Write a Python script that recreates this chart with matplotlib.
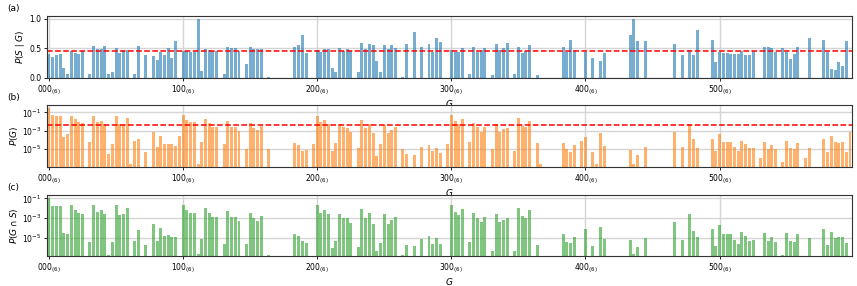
import numpy as np
import matplotlib
matplotlib.use('Agg')
import matplotlib.pyplot as plt

_ = None  # no bar drawn

# P(S | G) for G = 000_(6) ... 555_(6)
p_s_given_g = [
    0.41, 0.36, 0.39, 0.41, 0.17, 0.06, 0.46, 0.42, 0.41, 0.45, 0, 0.07,
    0.54, 0.49, 0.49, 0.54, 0.07, 0.09, 0.51, 0.42, 0.47, 0.48, 0, 0.06,
    0.54, 0, 0.38, 0, 0.37, 0.31, 0.44, 0.39, 0.51, 0.33, 0.63, 0,
    0.46, 0.45, 0.44, 0.44, 1.0, 0.12, 0.49, 0.47, 0.46, 0.46, 0, 0.06,
    0.52, 0.50, 0.50, 0.46, 0, 0.24, 0.52, 0.49, 0.49, 0.49, 0, 0.02,
    0, 0, 0, 0, 0, 0, 0.52, 0.56, 0.73, 0.42, 0, 0,
    0.47, 0.43, 0.49, 0.49, 0.17, 0.10, 0.50, 0.46, 0.49, 0.46, 0, 0.10,
    0.59, 0.49, 0.58, 0.55, 0.28, 0.10, 0.56, 0.49, 0.55, 0.51, 0, 0.02,
    0.58, 0, 0.77, 0, 0.53, 0, 0.58, 0.43, 0.67, 0.61, 0, 0,
    0.47, 0.43, 0.43, 0.50, 0, 0.07, 0.52, 0.44, 0.47, 0.50, 0, 0.05,
    0.58, 0.47, 0.50, 0.59, 0, 0.07, 0.52, 0.42, 0.45, 0.55, 0, 0.04,
    0, 0, 0, 0, 0, 0, 0.52, 0.43, 0.64, 0.47, 0, 0,
    0.44, 0, 0.33, 0, 0.28, 0.42, 0, 0, 0, 0, 0, 0,
    0.73, 1.0, 0.62, 0, 0.62, 0, 0, 0, 0, 0, 0, 0,
    0.57, 0, 0.39, 0, 0.47, 0.39, 0.81, 0, 0, 0, 0.65, 0.26,
    0.43, 0.42, 0.42, 0.41, 0.41, 0.41, 0.45, 0.39, 0.39, 0.45, 0, 0,
    0.52, 0.52, 0.50, 0.43, 0, 0.50, 0.43, 0.32, 0.40, 0.53, 0, 0,
    0.67, 0, 0, 0, 0.64, 0.43, 0.15, 0.14, 0.26, 0.20, 0.63, 0,
]

# log10 P(G)
log_p_g = [
    -0.55, -1.3, -1.4, -1.36, -3.7, -3.4, -1.36, -1.76, -2.1, -2.2, _, -4.2,
    -1.4, -2.1, -1.9, -2.3, -5.55, -4.4, -1.36, -2.3, -2.3, -1.65, -6.6, -4.1,
    -3.9, _, -5.3, _, -3.2, -4.8, -3.6, -4.4, -4.45, -4.45, -4.7, -3.6,
    -1.3, -1.85, -2.1, -2.1, -6.6, -4.2, -1.7, -2.2, -2.56, -2.56, _, -4.4,
    -2.0, -2.56, -2.56, -3.0, _, -5.0, -2.2, -2.67, -2.93, -2.45, _, -5.0,
    _, _, _, _, _, _, -4.3, -4.6, -5.2, -5.1, _, -4.4,
    -1.36, -2.1, -1.87, -2.27, -5.2, -4.3, -2.24, -2.64, -2.67, -3.15, _, -4.9,
    -1.84, -2.7, -2.27, -3.3, -5.76, -4.5, -2.35, -3.3, -2.9, -2.64, _, -5.0,
    -5.5, _, -5.7, _, -4.8, _, -4.6, -5.2, -4.85, -5.4, _, -4.4,
    -1.3, -2.0, -2.27, -1.76, _, -4.2, -2.2, -2.6, -3.1, -2.6, _, -5.0,
    -2.3, -3.1, -2.85, -2.75, _, -5.2, -1.65, -2.45, -2.64, -1.9, _, -4.3,
    -6.6, _, _, _, _, _, -4.35, -5.0, -5.3, -4.6, _, -4.1,
    -3.7, _, -5.3, -6.6, -3.3, -4.7, _, _, _, _, _, _,
    -5.1, -6.6, -5.7, _, -4.8, _, _, _, _, _, _, _,
    -3.2, _, -4.75, _, -2.3, -3.9, -4.85, _, _, _, -3.9, -5.2,
    -3.36, -4.2, -4.2, -4.2, -4.8, -5.2, -4.1, -4.4, -4.85, -4.9, _, -6.0,
    -4.2, -5.0, -4.6, -5.0, _, -6.4, -4.1, -4.85, -5.0, -4.35, _, -6.0,
    -4.85, _, _, _, -3.9, -5.3, -3.6, -4.2, -4.3, -4.2, -5.3, -3.15,
]

# log10 P(G ∩ S)
log_p_g_and_s = [
    -0.94, -1.74, -1.81, -1.75, -4.47, -4.62, -1.70, -2.14, -2.49, -2.55, _, -5.36,
    -1.67, -2.41, -2.21, -2.57, -6.71, -5.45, -1.65, -2.68, -2.63, -1.97, _, -5.32,
    -4.17, _, -5.72, _, -3.63, -5.31, -3.96, -4.81, -4.74, -4.93, -4.9, _,
    -1.64, -2.2, -2.46, -2.46, -6.6, -5.12, -2.01, -2.53, -2.9, -2.9, _, -5.62,
    -2.28, -2.86, -2.86, -3.34, _, -5.62, -2.48, -2.98, -3.24, -2.76, _, -6.7,
    _, _, _, _, _, _, -4.58, -4.85, -5.34, -5.48, _, _,
    -1.69, -2.47, -2.18, -2.58, -5.97, -5.3, -2.54, -2.98, -2.98, -3.49, _, -5.9,
    -2.07, -3.01, -2.51, -3.56, -6.31, -5.5, -2.6, -3.61, -3.16, -2.93, _, -6.7,
    -5.74, _, -5.81, _, -5.08, _, -4.84, -5.57, -5.02, -5.62, _, _,
    -1.63, -2.37, -2.64, -2.06, _, -5.36, -2.48, -2.96, -3.43, -2.9, _, -6.3,
    -2.54, -3.43, -3.15, -2.98, _, -6.36, -1.93, -2.83, -2.99, -2.16, _, -5.7,
    _, _, _, _, _, _, -4.63, -5.37, -5.49, -4.93, _, _,
    -4.06, _, -5.78, _, -3.85, -5.08, _, _, _, _, _, _,
    -5.24, -6.6, -5.91, _, -5.01, _, _, _, _, _, _, _,
    -3.44, _, -5.16, _, -2.63, -4.31, -4.94, _, _, _, -4.09, -5.79,
    -3.73, -4.58, -4.58, -4.59, -5.19, -5.59, -4.45, -4.81, -5.26, -5.25, _, _,
    -4.48, -5.28, -4.9, -5.37, _, -6.7, -4.47, -5.35, -5.4, -4.63, _, _,
    -5.02, _, _, _, -4.09, -5.67, -4.42, -5.05, -4.89, -4.9, -5.5, _,
]

p_s_line = 0.46            # red dashed line in (a)
p_g_uniform_line = 4.6e-3  # red dashed line in (b)

tick_positions = [0, 36, 72, 108, 144, 180]
tick_labels = [r'$000_{(6)}$', r'$100_{(6)}$', r'$200_{(6)}$',
               r'$300_{(6)}$', r'$400_{(6)}$', r'$500_{(6)}$']

FS = 5.5
plt.rcParams['font.family'] = ['DejaVu Sans']
plt.rcParams['mathtext.fontset'] = 'dejavusans'

fig = plt.figure(figsize=(8.57, 2.86), dpi=100)
left, width = 0.055, 0.939
ax_a = fig.add_axes([left, 0.728, width, 0.216])
ax_b = fig.add_axes([left, 0.417, width, 0.216])
ax_c = fig.add_axes([left, 0.105, width, 0.213])

g = np.arange(len(p_s_given_g))


def bars_from(vals, log=False):
    xs, hs = [], []
    for i, v in enumerate(vals):
        if v is None:
            continue
        if not log and v == 0:
            continue
        xs.append(g[i])
        hs.append(10.0 ** v if log else v)
    return np.array(xs), np.array(hs)


def style(ax, ylabel, panel):
    ax.set_axisbelow(True)
    ax.grid(True, color='#d5d5d5', linewidth=1.0)
    ax.set_xlim(-0.5, 215.5)
    ax.set_xticks(tick_positions)
    ax.set_xticklabels(tick_labels)
    ax.tick_params(labelsize=FS, length=2.5, width=0.6, pad=1.5)
    ax.tick_params(axis='y', which='minor', length=0)
    ax.set_ylabel(ylabel, fontsize=FS + 1, labelpad=2)
    ax.set_xlabel(r'$G$', fontsize=FS + 1, labelpad=0.5)
    for s in ax.spines.values():
        s.set_linewidth(0.8)
        s.set_color('#333333')
    ax.text(-0.050, 1.12, panel, transform=ax.transAxes, fontsize=FS + 1,
            ha='left', va='center')


# (a)
x, h = bars_from(p_s_given_g)
ax_a.bar(x, h, width=0.8, color='tab:blue', alpha=0.6, linewidth=0)
ax_a.axhline(p_s_line, color='red', linestyle='--', linewidth=1.1)
ax_a.set_ylim(0, 1.05)
ax_a.set_yticks([0.0, 0.5, 1.0])
style(ax_a, r'$P(S\mid G)$', '(a)')

# (b)
x, h = bars_from(log_p_g, log=True)
ax_b.bar(x, h, width=0.8, color='tab:orange', alpha=0.6, linewidth=0)
ax_b.axhline(p_g_uniform_line, color='red', linestyle='--', linewidth=1.1)
ax_b.set_yscale('log')
ax_b.set_ylim(10 ** -6.93, 10 ** -0.2)
ax_b.set_yticks([1e-1, 1e-3, 1e-5])
ax_b.minorticks_off()
style(ax_b, r'$P(G)$', '(b)')

# (c)
x, h = bars_from(log_p_g_and_s, log=True)
ax_c.bar(x, h, width=0.8, color='tab:green', alpha=0.6, linewidth=0)
ax_c.set_yscale('log')
ax_c.set_ylim(10 ** -6.82, 10 ** -0.67)
ax_c.set_yticks([1e-1, 1e-3, 1e-5])
ax_c.minorticks_off()
style(ax_c, r'$P(G\cap S)$', '(c)')

fig.savefig('out.png', dpi=100)
